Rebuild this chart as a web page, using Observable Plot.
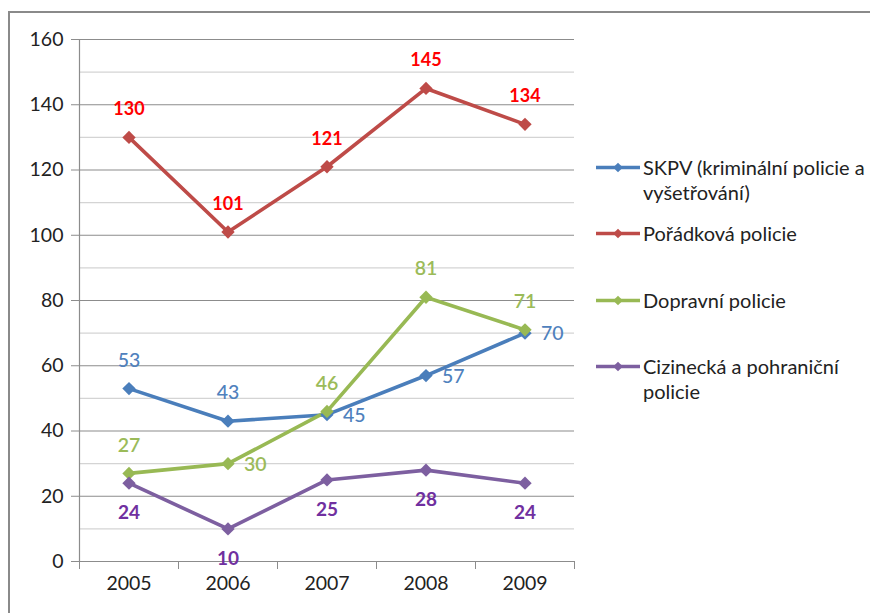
<!DOCTYPE html>
<html>
<head>
<meta charset="utf-8">
<script src="https://cdn.jsdelivr.net/npm/d3@7"></script>
<script src="https://cdn.jsdelivr.net/npm/@observablehq/plot@0.6"></script>
<style>
  body { margin: 0; background: #fff; }
  #wrap { position: relative; width: 870px; height: 613px; overflow: hidden; font-family: Lato, "Open Sans", sans-serif; }
  #frame { position: absolute; left: 8px; top: 11px; width: 900px; height: 700px; border: 2px solid #8a8a8a; box-sizing: border-box; }
  #chart { position: absolute; left: 0; top: 0; }
  #legend { position: absolute; left: 596px; top: 0; width: 274px; }
  .item { position: absolute; left: 0; display: flex; align-items: flex-start; font-size: 20px; color: #222; line-height: 25px; white-space: nowrap; }
  .item svg { flex: none; margin-top: 0px; }
  .item span { margin-left: 3px; }
</style>
</head>
<body>
<div id="wrap">
  <div id="frame"></div>
  <div id="chart"></div>
  <div id="legend"></div>
</div>
<script>
const years = ["2005", "2006", "2007", "2008", "2009"];
const seriesNames = [
  "SKPV (kriminální policie a vyšetřování)",
  "Pořádková policie",
  "Dopravní policie",
  "Cizinecká a pohraniční policie"
];
const legendLines = [
  ["SKPV (kriminální policie a", "vyšetřování)"],
  ["Pořádková policie"],
  ["Dopravní policie"],
  ["Cizinecká a pohraniční", "policie"]
];
const skpv = [53, 43, 45, 57, 70];
const poradkova = [130, 101, 121, 145, 134];
const dopravni = [27, 30, 46, 81, 71];
const cizinecka = [24, 10, 25, 28, 24];
// label placement per point: "above", "below", "right"
const skpvPos = ["above", "above", "right", "right", "right"];
const poradkovaPos = ["above", "above", "above", "above", "above"];
const dopravniPos = ["above", "right", "above", "above", "above"];
const cizineckaPos = ["below", "below", "below", "below", "below"];

const lineColors = ["#4A7EBB", "#BE4B48", "#98B954", "#7D5FA0"];
const labelColors = ["#4F81BD", "#FF0000", "#9BBB59", "#7030A0"];
const labelWeights = [500, 700, 600, 700];
const labelSizes = [19.5, 18, 19.5, 19];
const yTicks = [0, 20, 40, 60, 80, 100, 120, 140, 160];
const yMinor = [10, 30, 50, 70, 90, 110, 130, 150];

const allValues = [skpv, poradkova, dopravni, cizinecka];
const allPos = [skpvPos, poradkovaPos, dopravniPos, cizineckaPos];
const rows = [];
allValues.forEach((vals, s) => {
  vals.forEach((v, i) => rows.push({ s, name: seriesNames[s], i, x: i + 0.5, year: years[i], v, pos: allPos[s][i] }));
});

const font = "Lato, 'Open Sans', sans-serif";
const labelMarks = [];
for (let s = 0; s < 4; s++) {
  for (const pos of ["above", "below", "right"]) {
    const d = rows.filter(r => r.s === s && r.pos === pos);
    if (!d.length) continue;
    labelMarks.push(Plot.text(d, {
      x: "x", y: "v", text: d => String(d.v),
      dy: pos === "above" ? -28 : pos === "below" ? 30 : 1,
      dx: pos === "right" ? 16 : 0,
      textAnchor: pos === "right" ? "start" : "middle",
      fill: labelColors[s], fontSize: labelSizes[s], fontWeight: labelWeights[s], fontFamily: font
    }));
  }
}

const chart = Plot.plot({
  width: 870,
  height: 613,
  marginLeft: 79,
  marginRight: 296,
  marginTop: 39,
  marginBottom: 52,
  style: { background: "transparent", overflow: "visible", fontFamily: font },
  x: { domain: [0, 5], axis: null },
  y: { domain: [0, 160], axis: null },
  marks: [
    Plot.ruleY(yMinor, { stroke: "#d4d4d4", strokeWidth: 1.2 }),
    Plot.ruleY(yTicks, { stroke: "#8c8c8c", strokeWidth: 1.2 }),
    Plot.ruleX([0], { stroke: "#8c8c8c", strokeWidth: 1.2 }),
    Plot.axisY({ ticks: yTicks, tickSize: 8, tickPadding: 8, stroke: "#8c8c8c", fill: "#222", fontSize: 19.5, fontFamily: font, label: null }),
    Plot.axisX({ ticks: [0, 1, 2, 3, 4, 5], tickSize: 8, tickFormat: () => "", stroke: "#8c8c8c", label: null }),
    Plot.axisX({ ticks: years.map((y, i) => i + 0.5), tickSize: 0, tickPadding: 15, tickFormat: d => years[Math.floor(d)], fill: "#222", fontSize: 19.5, fontFamily: font, label: null }),
    Plot.line(rows, { x: "x", y: "v", z: "s", stroke: d => lineColors[d.s], strokeWidth: 3.6, strokeLinejoin: "round" }),
    Plot.dot(rows, { x: "x", y: "v", symbol: "diamond2", r: 6, fill: d => lineColors[d.s], stroke: "none" }),
    ...labelMarks
  ]
});
document.getElementById("chart").appendChild(chart);

// Legend
const legendTops = [155, 221, 288, 354];
const legend = document.getElementById("legend");
legendLines.forEach((lines, s) => {
  const div = document.createElement("div");
  div.className = "item";
  div.style.top = legendTops[s] + "px";
  const sw = d3.create("svg").attr("width", 44).attr("height", 25);
  sw.append("line").attr("x1", 0).attr("x2", 44).attr("y1", 12.5).attr("y2", 12.5).attr("stroke", lineColors[s]).attr("stroke-width", 3.6);
  sw.append("path").attr("d", d3.symbol(d3.symbolDiamond2, 60)()).attr("transform", "translate(22,12.5)").attr("fill", lineColors[s]);
  div.appendChild(sw.node());
  const span = document.createElement("span");
  span.innerHTML = lines.join("<br>");
  div.appendChild(span);
  legend.appendChild(div);
});
</script>
</body>
</html>
